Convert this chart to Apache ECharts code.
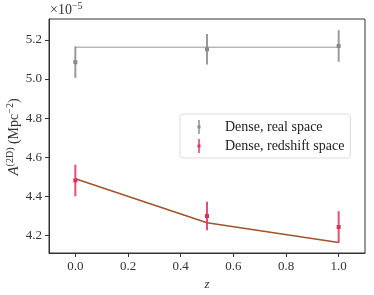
<!DOCTYPE html>
<html><head><meta charset="utf-8">
<script src="https://cdn.jsdelivr.net/npm/echarts@6/dist/echarts.min.js"></script>
<style>html,body{margin:0;padding:0;background:#fff}#c{width:374px;height:295px}</style>
</head><body><div id="c"></div>
<script>
const zValues = [0.0, 0.5, 1.0];
const realMean = [5.086, 5.152, 5.169];
const realErr = [0.080, 0.078, 0.081];
const realModel = [5.163, 5.163, 5.163];
const rsdMean = [4.481, 4.299, 4.243];
const rsdErr = [0.081, 0.073, 0.081];
const rsdModel = [4.490, 4.265, 4.164];
const xTicks = [0.0, 0.2, 0.4, 0.6, 0.8, 1.0];
const yTicks = [4.2, 4.4, 4.6, 4.8, 5.0, 5.2];

const FONT = 'Liberation Serif';
const chart = echarts.init(document.getElementById('c'), null, {renderer: 'canvas'});

function errSeries(name, mean, err, color) {
  return {
    name: name, type: 'custom', z: 5,
    data: zValues.map((x, i) => [x, mean[i] - err[i], mean[i] + err[i], mean[i]]),
    renderItem: function (params, api) {
      const lo = api.coord([api.value(0), api.value(1)]);
      const hi = api.coord([api.value(0), api.value(2)]);
      const c = api.coord([api.value(0), api.value(3)]);
      return {type: 'group', children: [
        {type: 'line', shape: {x1: lo[0], y1: lo[1], x2: hi[0], y2: hi[1]}, style: {stroke: color, lineWidth: 2, opacity: 0.85}},
        {type: 'rect', shape: {x: c[0] - 2, y: c[1] - 2, width: 4, height: 4}, style: {fill: color}}
      ]};
    },
    encode: {x: 0, y: [1, 2, 3]}
  };
}

const errIcon = 'path://M0,0 L0.01,0 L0.01,0.01 L0,0.01 Z M6.3,0 L7.7,0 L7.7,5.5 L8.5,5.5 L8.5,8.5 L7.7,8.5 L7.7,14 L6.3,14 L6.3,8.5 L5.5,8.5 L5.5,5.5 L6.3,5.5 Z M13.99,13.99 L14,13.99 L14,14 L13.99,14 Z';

chart.setOption({
  animation: false,
  grid: {left: 49, right: 9, top: 19, bottom: 42, containLabel: false, outerBoundsMode: 'none', show: true, borderColor: '#333', borderWidth: 1},
  xAxis: {
    type: 'value', min: -0.1, max: 1.1,
    axisLine: {show: true, onZero: false, lineStyle: {color: '#333'}},
    axisTick: {show: true, customValues: xTicks, length: 4, lineStyle: {color: '#333'}},
    axisLabel: {customValues: xTicks, formatter: v => v.toFixed(1), fontFamily: FONT, fontSize: 13, color: '#333', margin: 7},
    splitLine: {show: false},
    name: 'z', nameLocation: 'middle', nameGap: 24,
    nameTextStyle: {fontFamily: FONT, fontStyle: 'italic', fontSize: 13, color: '#333'}
  },
  yAxis: {
    type: 'value', min: 4.11, max: 5.307,
    axisLine: {show: true, onZero: false, lineStyle: {color: '#333'}},
    axisTick: {show: true, customValues: yTicks, length: 4, lineStyle: {color: '#333'}},
    axisLabel: {customValues: yTicks, formatter: v => v.toFixed(1), fontFamily: FONT, fontSize: 13, color: '#333', margin: 7},
    splitLine: {show: false}
  },
  legend: {
    show: true, left: 180, top: 114,
    orient: 'vertical', itemGap: 5, itemWidth: 14, itemHeight: 14,
    padding: [6, 6, 5, 12],
    backgroundColor: '#fff', borderColor: '#ddd', borderWidth: 1, borderRadius: 3,
    textStyle: {fontFamily: FONT, fontSize: 14, color: '#222', padding: [0, 0, 0, 14]},
    data: [
      {name: 'Dense, real space', icon: errIcon, itemStyle: {color: '#888'}},
      {name: 'Dense, redshift space', icon: errIcon, itemStyle: {color: '#e0305a'}}
    ]
  },
  graphic: [{
    type: 'text', left: 50, top: 1,
    style: {text: '×10{s|−5}', fontFamily: FONT, fontSize: 14, fill: '#333',
      rich: {s: {fontFamily: FONT, fontSize: 10, fill: '#333', padding: [0, 0, 8, 0]}}}
  }, {
    type: 'text', x: 14, y: 137, rotation: Math.PI / 2,
    style: {text: '{i|A}{s|(2D)} (Mpc{s|−2})', fontFamily: FONT, fontSize: 14, fill: '#333',
      align: 'center', verticalAlign: 'middle',
      rich: {
        i: {fontFamily: FONT, fontStyle: 'italic', fontSize: 15, fill: '#333'},
        s: {fontFamily: FONT, fontSize: 10, fill: '#333', padding: [0, 0, 8, 0]}
      }}
  }],
  series: [
    {name: 'model real', type: 'line', data: zValues.map((x, i) => [x, realModel[i]]), showSymbol: false, symbol: 'none', lineStyle: {color: '#b8b8b8', width: 1.5}, z: 3, silent: true},
    {name: 'model rsd', type: 'line', data: zValues.map((x, i) => [x, rsdModel[i]]), showSymbol: false, symbol: 'none', lineStyle: {color: '#a0522d', width: 1.5}, z: 3, silent: true},
    errSeries('Dense, real space', realMean, realErr, '#888'),
    errSeries('Dense, redshift space', rsdMean, rsdErr, '#e0305a')
  ]
});
</script></body></html>
